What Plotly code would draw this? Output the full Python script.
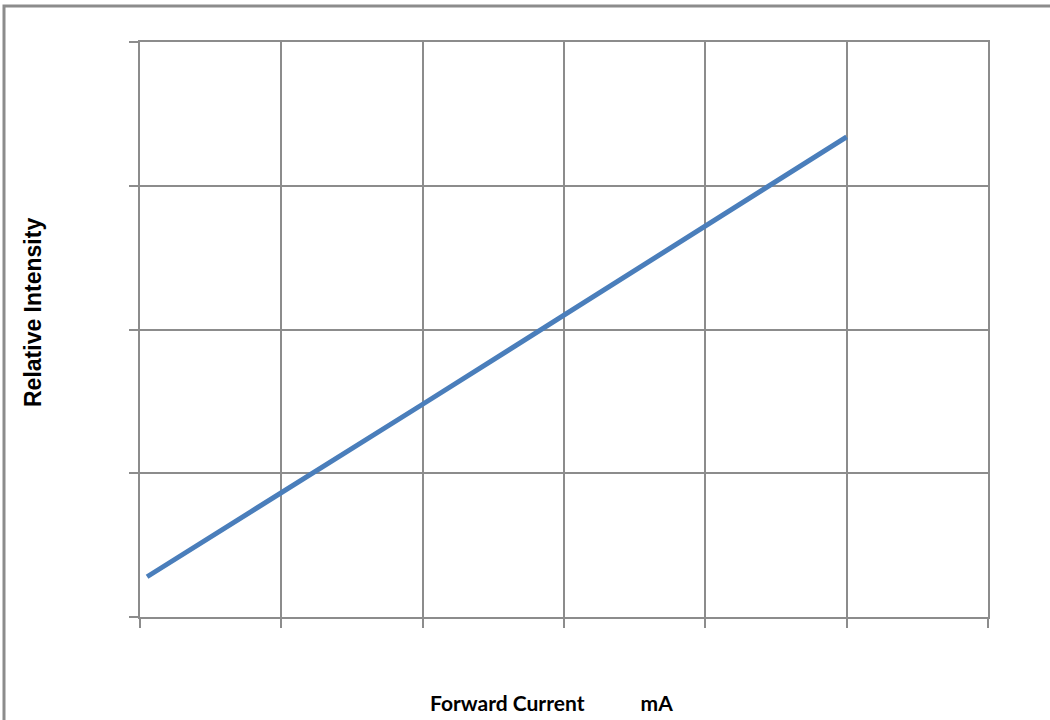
import plotly.graph_objects as go

# Data (no tick labels in the original)
current_ma = [0.5, 10, 20, 30, 40, 50]
relative_intensity = [0.14, 0.43, 0.74, 1.05, 1.36, 1.67]

x_title = "Forward Current" + "&nbsp;" * 11 + "mA"
y_title = "Relative Intensity"

grid_col = "#8c8c8c"

L, R, T, B = 140, 62, 42, 103
PW, PH = 1050 - L - R, 720 - T - B


def px(x):
    return (x - L) / PW


def py(y):
    return (720 - B - y) / PH


fig = go.Figure()
fig.add_trace(go.Scatter(
    x=current_ma, y=relative_intensity, mode="lines",
    line=dict(color="#4a7ebb", width=5),
    showlegend=False, hoverinfo="skip",
))

fig.update_layout(
    width=1050, height=720,
    margin=dict(l=L, r=R, t=T, b=B),
    paper_bgcolor="white", plot_bgcolor="white",
    font=dict(family="Lato, 'Open Sans', sans-serif", color="#000000"),
    xaxis=dict(
        range=[0, 60], dtick=10, tick0=0, showticklabels=False,
        showgrid=True, gridcolor=grid_col, gridwidth=1.5,
        showline=True, linecolor=grid_col, linewidth=2, mirror=True,
        ticks="outside", ticklen=9, tickcolor=grid_col, tickwidth=2,
        zeroline=False, fixedrange=True,
    ),
    yaxis=dict(
        range=[0, 2], dtick=0.5, tick0=0, showticklabels=False,
        showgrid=True, gridcolor=grid_col, gridwidth=1.5,
        showline=True, linecolor=grid_col, linewidth=2, mirror=True,
        ticks="outside", ticklen=9, tickcolor=grid_col, tickwidth=2,
        zeroline=False, fixedrange=True,
    ),
    annotations=[
        dict(text="<b>" + x_title + "</b>", xref="paper", yref="paper",
             x=px(551), y=py(702), showarrow=False,
             font=dict(size=21, family="Lato, 'Open Sans', sans-serif"),
             xanchor="center", yanchor="middle"),
        dict(text="<b>" + y_title + "</b>", xref="paper", yref="paper",
             x=px(33), y=py(312), showarrow=False,
             textangle=-90,
             font=dict(size=23, family="'Liberation Sans', Arial, sans-serif"),
             xanchor="center", yanchor="middle"),
    ],
    shapes=[
        dict(type="rect", xref="paper", yref="paper",
             x0=px(4), x1=px(1060), y0=py(740), y1=py(6),
             line=dict(color=grid_col, width=3), fillcolor="rgba(0,0,0,0)",
             layer="below"),
    ],
)

fig.write_html(
    "out.html",
    config={"displayModeBar": False},
    post_script="document.body.style.margin='0';document.body.style.padding='0';",
)
